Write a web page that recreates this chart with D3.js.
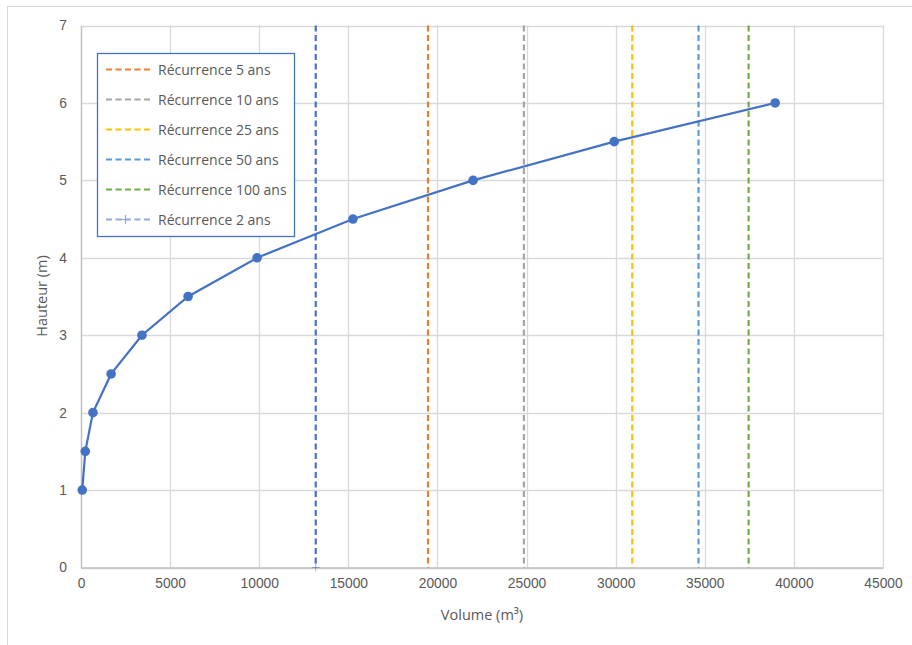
<!DOCTYPE html>
<html>
<head>
<meta charset="utf-8">
<script src="https://cdn.jsdelivr.net/npm/d3@7"></script>
<style>
  body { margin: 0; background: #fff; }
  svg { display: block; font-family: "Open Sans", "Segoe UI", "Liberation Sans", sans-serif; }
</style>
</head>
<body>
<svg id="chart" width="912" height="645"></svg>
<script>
// Courbe hauteur / volume
const hauteurs = [1, 1.5, 2, 2.5, 3, 3.5, 4, 4.5, 5, 5.5, 6];
const volumes = [70, 240, 670, 1690, 3420, 6010, 9880, 15260, 22000, 29920, 38950];

// Volumes des crues de référence (lignes verticales)
const recurrenceLabels = ["Récurrence 5 ans", "Récurrence 10 ans", "Récurrence 25 ans", "Récurrence 50 ans", "Récurrence 100 ans", "Récurrence 2 ans"];
const recurrenceVolumes = [19470, 24850, 30930, 34650, 37460, 13170];
const recurrenceColors = ["#ED7D31", "#A5A5A5", "#FFC000", "#5B9BD5", "#70AD47", "#4472C4"];

const xTicks = [0, 5000, 10000, 15000, 20000, 25000, 30000, 35000, 40000, 45000];
const yTicks = [0, 1, 2, 3, 4, 5, 6, 7];

const svg = d3.select("#chart");
const plot = { left: 81, right: 883, top: 25.5, bottom: 567.5 };

const x = d3.scaleLinear().domain([0, 45000]).range([plot.left, plot.right]);
const y = d3.scaleLinear().domain([0, 7]).range([plot.bottom, plot.top]);

// cadre du graphique
svg.append("rect")
  .attr("x", 7.5).attr("y", 6.5).attr("width", 1000).attr("height", 1000)
  .attr("fill", "none").attr("stroke", "#d9d9d9").attr("stroke-width", 1);

// grille
svg.append("g").selectAll("line").data(xTicks).join("line")
  .attr("x1", d => Math.round(x(d)) + 0.5).attr("x2", d => Math.round(x(d)) + 0.5)
  .attr("y1", plot.top).attr("y2", plot.bottom)
  .attr("stroke", "#d9d9d9").attr("stroke-width", 1.3);
svg.append("g").selectAll("line").data(yTicks).join("line")
  .attr("x1", plot.left).attr("x2", plot.right)
  .attr("y1", d => Math.round(y(d)) + 0.5).attr("y2", d => Math.round(y(d)) + 0.5)
  .attr("stroke", "#d9d9d9").attr("stroke-width", 1.3);

// axes
const xAxis = d3.axisBottom(x).tickValues(xTicks).tickSize(0).tickPadding(11).tickFormat(d3.format("d"));
const gx = svg.append("g").attr("transform", `translate(0,${plot.bottom})`).call(xAxis);
gx.select(".domain").attr("stroke", "#bfbfbf").attr("stroke-width", 1.3);
gx.selectAll("text").attr("fill", "#595959").attr("font-size", 13.8);

const yAxis = d3.axisLeft(y).tickValues(yTicks).tickSize(0).tickPadding(14).tickFormat(d3.format("d"));
const gy = svg.append("g").attr("transform", `translate(${plot.left},0)`).call(yAxis);
gy.select(".domain").attr("stroke", "#bfbfbf").attr("stroke-width", 1.3);
gy.selectAll("text").attr("fill", "#595959").attr("font-size", 13.8);

// titres des axes
svg.append("text").attr("x", 482).attr("y", 620).attr("text-anchor", "middle")
  .attr("fill", "#595959").attr("font-size", 14.5).text("Volume (m³)");
svg.append("text").attr("transform", "translate(47,296) rotate(-90)").attr("text-anchor", "middle")
  .attr("fill", "#595959").attr("font-size", 14.5).text("Hauteur (m)");

// lignes de récurrence
const rec = recurrenceLabels.map((l, i) => ({ label: l, v: recurrenceVolumes[i], c: recurrenceColors[i] }));
svg.append("g").selectAll("line").data(rec).join("line")
  .attr("x1", d => x(d.v)).attr("x2", d => x(d.v))
  .attr("y1", y(7)).attr("y2", y(0))
  .attr("stroke", d => d.c).attr("stroke-width", 2.2)
  .attr("stroke-dasharray", "6,3.5");

// marqueur "+" de la récurrence 2 ans (pied de la ligne)
const r2 = rec[5];
svg.append("path")
  .attr("d", `M${x(r2.v) - 4},${y(0)}h8M${x(r2.v)},${y(0) - 4}v8`)
  .attr("stroke", r2.c).attr("stroke-width", 1).attr("opacity", 0.5);

// courbe
const pts = volumes.map((v, i) => [v, hauteurs[i]]);
svg.append("path").datum(pts)
  .attr("d", d3.line().x(d => x(d[0])).y(d => y(d[1])))
  .attr("fill", "none").attr("stroke", "#4472C4").attr("stroke-width", 2.2);
svg.append("g").selectAll("circle").data(pts).join("circle")
  .attr("cx", d => x(d[0])).attr("cy", d => y(d[1])).attr("r", 4.8)
  .attr("fill", "#4472C4");

// légende
const lg = svg.append("g");
lg.append("rect").attr("x", 97.5).attr("y", 53.5).attr("width", 197).attr("height", 183)
  .attr("fill", "#fff").attr("stroke", "#4472C4").attr("stroke-width", 1.3);
rec.forEach((d, i) => {
  const yy = 69.5 + i * 30;
  lg.append("line").attr("x1", 106).attr("x2", 153).attr("y1", yy).attr("y2", yy)
    .attr("stroke", i === 5 ? "#8FAADC" : d.c).attr("stroke-width", 2.2).attr("stroke-dasharray", "6,3.5");
  if (i === 5) {
    lg.append("path").attr("d", `M125.5,${yy - 4.5}v9M121,${yy}h9`)
      .attr("stroke", "#8FAADC").attr("stroke-width", 1.2);
  }
  lg.append("text").attr("x", 158).attr("y", yy + 5)
    .attr("fill", "#595959").attr("font-size", 14).text(d.label);
});
</script>
</body>
</html>
